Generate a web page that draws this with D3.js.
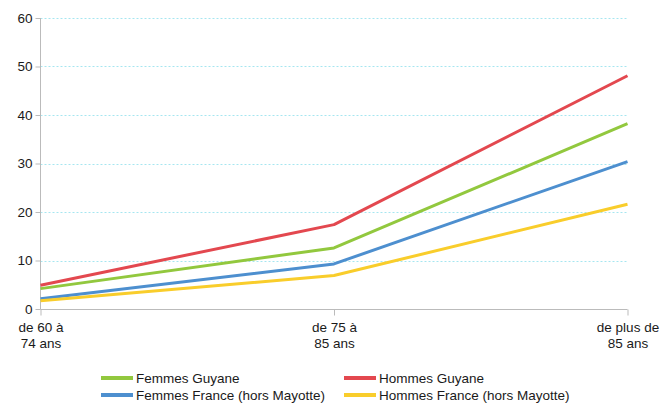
<!DOCTYPE html>
<html><head><meta charset="utf-8">
<script src="https://cdn.jsdelivr.net/npm/d3@7"></script>
<style>body{margin:0;background:#fff}svg{display:block;font-family:"Liberation Sans",Arial,sans-serif}</style>
</head><body><svg id="c" width="671" height="403"></svg>
<script>
const categories = [["de 60 à","74 ans"],["de 75 à","85 ans"],["de plus de","85 ans"]];
const yTicks = [0,10,20,30,40,50,60];
const seriesNames = ["Femmes Guyane","Hommes Guyane","Femmes France (hors Mayotte)","Hommes France (hors Mayotte)"];
const femmesGuyane = [4.2, 12.6, 38.2];
const hommesGuyane = [4.9, 17.4, 48.1];
const femmesFrance = [2.1, 9.3, 30.4];
const hommesFrance = [1.7, 6.9, 21.6];
const colors = ["#92c83e","#e3484f","#4d8fcf","#f9cd2b"];
const seriesValues = [femmesGuyane, hommesGuyane, femmesFrance, hommesFrance];
const FS = 13.5, TXT = "#1a1a1a", FF = "Liberation Sans, Arial, sans-serif";

const svg = d3.select("#c");
const x = d3.scalePoint().domain(d3.range(categories.length)).range([40.5, 627.5]).padding(0);
const y = d3.scaleLinear().domain([0,60]).range([309, 18]);

// grid
svg.append("g").selectAll("line").data(yTicks.filter(d=>d>0)).join("line")
  .attr("x1",40.5).attr("x2",627.5).attr("y1",d=>Math.round(y(d))+0.5).attr("y2",d=>Math.round(y(d))+0.5)
  .attr("stroke","#a6e6f0").attr("stroke-width",1).attr("stroke-dasharray","2,2");

// y axis
const ya = svg.append("g").attr("transform","translate(40.5,0)")
  .call(d3.axisLeft(y).tickValues(yTicks).tickSize(5).tickPadding(3).tickFormat(d3.format("d")));
ya.select(".domain").attr("stroke","#bbb").attr("d","M0,"+y(60)+"V"+(y(0)+0.5));
ya.selectAll(".tick line").attr("stroke","#bbb");
ya.selectAll("text").attr("font-size",FS).attr("fill",TXT).attr("font-family",FF);

// x axis
const xa = svg.append("g").attr("transform","translate(0,"+(Math.round(y(0))+0.5)+")")
  .call(d3.axisBottom(x).tickSize(6).tickFormat(""));
xa.select(".domain").attr("stroke","#bbb").attr("d","M40.5,0H627.5");
xa.selectAll(".tick line").attr("stroke","#bbb");
xa.selectAll(".tick").each(function(d){
  const t = d3.select(this).append("text").attr("fill",TXT).attr("font-size",FS)
    .attr("text-anchor","middle").attr("font-family",FF);
  categories[d].forEach((s,i)=>t.append("tspan").attr("x",0).attr("y",22+i*16.5).text(s));
});

// lines
const line = d3.line().x((d,i)=>x(i)).y(d=>y(d));
seriesValues.forEach((vals,k)=>{
  svg.append("path").datum(vals).attr("d",line).attr("fill","none")
    .attr("stroke",colors[k]).attr("stroke-width",3).attr("stroke-linejoin","round");
});

// legend
const legPos = [[101,378],[344,378],[101,395],[344,395]];
seriesNames.forEach((n,k)=>{
  const g = svg.append("g").attr("transform","translate("+legPos[k][0]+","+legPos[k][1]+")");
  g.append("line").attr("x1",0).attr("x2",32).attr("y1",0).attr("y2",0).attr("stroke",colors[k]).attr("stroke-width",4);
  g.append("text").attr("x",35).attr("y",4.7).attr("font-size",FS).attr("fill",TXT).attr("font-family",FF).text(n);
});
</script></body></html>
